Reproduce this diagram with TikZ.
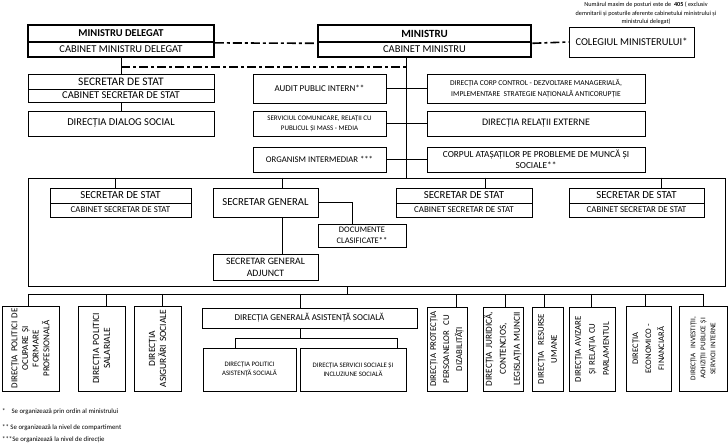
\documentclass[tikz,border=0pt]{standalone}
\usepackage{fontspec}
\setmainfont{Carlito}

\tikzset{
  box/.style={draw, line width=0.9pt, inner sep=1pt, align=center},
  chief/.style={draw, line width=2.6pt, inner sep=1pt, align=center},
  deputy/.style={draw, line width=1.8pt, inner sep=1pt, align=center},
  vbox/.style={box, rotate=90, text width=80pt},
  link/.style={line width=0.8pt},
  linkdash/.style={line width=1.6pt, dash pattern=on 9pt off 3pt on 3pt off 3pt},
}

\begin{document}
\begin{tikzpicture}[x=1pt,y=-1pt]
   \useasboundingbox (0,0) rectangle (728,446);

   % conducere
   \node[deputy,font=\bfseries\fontsize{10.5}{12}\selectfont,minimum width=186pt,minimum height=17pt] (mdtop) at (121,33.5) {MINISTRU DELEGAT};
   \node[deputy,font=\fontsize{10.5}{12}\selectfont,minimum width=186pt,minimum height=15pt] (mdbot) at (121,49.5) {CABINET MINISTRU DELEGAT};
   \node[chief,font=\bfseries\fontsize{11}{12}\selectfont,minimum width=213pt,minimum height=17pt] (mtop) at (424.5,33.5) {MINISTRU};
   \node[chief,font=\fontsize{10.5}{12}\selectfont,minimum width=213pt,minimum height=15pt] (mbot) at (424.5,49.5) {CABINET MINISTRU};
   \node[box,font=\fontsize{10.5}{12}\selectfont,minimum width=125pt,minimum height=30pt] (coleg) at (631.5,42) {COLEGIUL MINISTERULUI*};
   \node[font=\fontsize{6.2}{8.5}\selectfont,align=center,inner sep=0pt] (nota) at (646,13.5) {Numărul maxim de posturi este de \ \textbf{405} ( exclusiv\\ demnitarii și posturile aferente cabinetului ministrului și\\ ministrului delegat)};

   \draw[linkdash] (mdtop.south east) -- (mtop.south west);
   \draw[linkdash] (mtop.south east) -- (coleg.west);

   % ramura ministru delegat
   \node[box,font=\fontsize{11.5}{12}\selectfont,minimum width=186pt,minimum height=15pt] (ssAtop) at (121,81.5) {SECRETAR DE STAT};
   \node[box,font=\fontsize{10.5}{12}\selectfont,minimum width=186pt,minimum height=13pt] (ssAbot) at (121,95.5) {CABINET SECRETAR DE STAT};
   \node[box,font=\fontsize{10.5}{12}\selectfont,minimum width=186pt,minimum height=25pt] (dds) at (121,123.5) {DIRECȚIA DIALOG SOCIAL};
   \draw[link] (mdbot.south) -- (ssAtop.north);
   \draw[link] (ssAbot.south) -- (dds.north);

   % structuri din subordinea ministrului
   \node[box,font=\fontsize{9}{11}\selectfont,minimum width=133pt,minimum height=29pt] (audit) at (319.5,88.5) {AUDIT PUBLIC INTERN**};
   \node[box,font=\fontsize{7}{10}\selectfont,minimum width=133pt,minimum height=25pt] (serv) at (319.5,123.5) {SERVICIUL COMUNICARE, RELAȚII CU\\ PUBLICUL ȘI MASS - MEDIA};
   \node[box,font=\fontsize{8.7}{11}\selectfont,minimum width=133pt,minimum height=25pt] (organism) at (319.5,159.5) {ORGANISM INTERMEDIAR ***};
   \node[box,font=\fontsize{7.5}{11.5}\selectfont,minimum width=218pt,minimum height=29pt] (corp) at (536,88.5) {DIRECȚIA CORP CONTROL - DEZVOLTARE MANAGERIALĂ,\\ IMPLEMENTARE \ STRATEGIE NAȚIONALĂ ANTICORUPȚIE};
   \node[box,font=\fontsize{10}{12}\selectfont,minimum width=218pt,minimum height=25pt] (relext) at (536,123.5) {DIRECȚIA RELAȚII EXTERNE};
   \node[box,font=\fontsize{9.3}{11}\selectfont,minimum width=218pt,minimum height=25pt] (atasati) at (536,159.5) {CORPUL ATAȘAȚILOR PE PROBLEME DE MUNCĂ ȘI\\ SOCIALE**};

   \coordinate (trunk) at (406,67);
   \draw[linkdash] (mdbot.south |- trunk) -- (trunk);
   \draw[link] (audit) -- (corp);
   \draw[link] (serv) -- (relext);
   \draw[link] (organism) -- (atasati);

   % cadru secretari
   \node[box,minimum width=697pt,minimum height=108pt] (frame) at (376.5,232) {};
   \draw[link] (trunk |- mbot.south) -- (trunk |- frame.north);

   \node[box,font=\fontsize{10.8}{12}\selectfont,minimum width=141pt,minimum height=15pt] (ssBtop) at (120.5,195.5) {SECRETAR DE STAT};
   \node[box,font=\fontsize{8.9}{10}\selectfont,minimum width=141pt,minimum height=14pt] (ssBbot) at (120.5,210) {CABINET SECRETAR DE STAT};
   \node[box,font=\fontsize{10.7}{12}\selectfont,minimum width=105pt,minimum height=29pt] (sg) at (265.5,202.5) {SECRETAR GENERAL};
   \node[box,font=\fontsize{9.8}{12}\selectfont,minimum width=105pt,minimum height=26pt] (sga) at (265.5,267) {SECRETAR GENERAL\\ ADJUNCT};
   \node[box,font=\fontsize{8.5}{11}\selectfont,minimum width=88pt,minimum height=23pt] (doc) at (362,235.5) {DOCUMENTE\\ CLASIFICATE**};
   \node[box,font=\fontsize{10.8}{12}\selectfont,minimum width=136pt,minimum height=15pt] (ssCtop) at (464,195.5) {SECRETAR DE STAT};
   \node[box,font=\fontsize{8.9}{10}\selectfont,minimum width=136pt,minimum height=14pt] (ssCbot) at (464,210) {CABINET SECRETAR DE STAT};
   \node[box,font=\fontsize{10.8}{12}\selectfont,minimum width=135pt,minimum height=15pt] (ssDtop) at (636.5,195.5) {SECRETAR DE STAT};
   \node[box,font=\fontsize{8.9}{10}\selectfont,minimum width=135pt,minimum height=14pt] (ssDbot) at (636.5,210) {CABINET SECRETAR DE STAT};

   \coordinate (dropB) at (115,0);
   \coordinate (sgaxis) at (282,0);
   \coordinate (docaxis) at (352,0);
   \coordinate (dropC) at (485,0);
   \coordinate (dropD) at (661,0);
   \draw[link] (dropB |- frame.north) -- (dropB |- ssBtop.north);
   \draw[link] (sgaxis |- frame.north) -- (sgaxis |- sg.north);
   \draw[link] (sgaxis |- sg.south) -- (sgaxis |- sga.north);
   \draw[link] (sg.east) -| (docaxis |- doc.north);
   \draw[link] (dropC |- frame.north) -- (dropC |- ssCtop.north);
   \draw[link] (dropD |- frame.north) -- (dropD |- ssDtop.north);

   % directii
   \node[vbox,font=\fontsize{9}{10.7}\selectfont,minimum width=85pt,minimum height=57pt] (b1) at (30.5,348.5) {DIRECȚIA POLITICI DE\\ OCUPARE ȘI\\ FORMARE\\ PROFESIONALĂ};
   \node[vbox,font=\fontsize{9.5}{11}\selectfont,minimum width=85pt,minimum height=47pt] (b2) at (101.5,348.5) {DIRECȚIA POLITICI\\ SALARIALE};
   \node[vbox,font=\fontsize{9.5}{11}\selectfont,minimum width=85pt,minimum height=47pt] (b3) at (157.5,348.5) {DIRECȚIA\\ ASIGURĂRI SOCIALE};
   \node[box,font=\fontsize{9}{11}\selectfont,minimum width=215pt,minimum height=20pt] (dgas) at (309.5,318) {DIRECȚIA GENERALĂ ASISTENȚĂ SOCIALĂ};
   \node[box,font=\fontsize{6.8}{9}\selectfont,minimum width=93pt,minimum height=43pt] (sub1) at (249.5,369.5) {DIRECȚIA POLITICI\\ ASISTENȚĂ SOCIALĂ};
   \node[box,font=\fontsize{6.8}{9}\selectfont,minimum width=106pt,minimum height=43pt] (sub2) at (353,369.5) {DIRECȚIA SERVICII SOCIALE ȘI\\ INCLUZIUNE SOCIALĂ};
   \node[vbox,font=\fontsize{8.8}{13}\selectfont,minimum width=84pt,minimum height=40pt] (b5) at (447,349) {DIRECȚIA PROTECȚIA\\ PERSOANELOR \ CU\\ DIZABILITĂȚI};
   \node[vbox,font=\fontsize{9.2}{14}\selectfont,minimum width=84pt,minimum height=40pt] (b6) at (503,349) {DIRECȚIA JURIDICĂ,\\ CONTENCIOS,\\ LEGISLAȚIA MUNCII};
   \node[vbox,font=\fontsize{8.8}{13}\selectfont,minimum width=84pt,minimum height=31pt] (b7) at (547.5,349) {DIRECȚIA \ RESURSE\\ UMANE};
   \node[vbox,font=\fontsize{8.8}{14}\selectfont,minimum width=84pt,minimum height=46pt] (b8) at (592,349) {DIRECȚIA AVIZARE\\ ȘI RELAȚIA CU\\ PARLAMENTUL};
   \node[vbox,font=\fontsize{8.5}{13}\selectfont,minimum width=85pt,minimum height=45pt] (b9) at (648.5,348.5) {DIRECȚIA\\ ECONOMICO -\\ FINANCIARĂ};
   \node[vbox,font=\fontsize{7.2}{10}\selectfont,minimum width=85pt,minimum height=48pt] (b10) at (703,348.5) {DIRECȚIA \ INVESTIȚII,\\ ACHIZIȚII PUBLICE ȘI\\ SERVICII INTERNE};

   \coordinate (bus) at (347,294);
   \coordinate (d1) at (28,294);
   \coordinate (d2) at (106,294);
   \coordinate (d3) at (162,294);
   \coordinate (d4) at (300,294);
   \coordinate (d5) at (456,294);
   \coordinate (d6) at (505,294);
   \coordinate (d7) at (544,294);
   \coordinate (d8) at (591,294);
   \coordinate (d9) at (645,294);
   \coordinate (d10) at (703,294);
   \draw[link] (bus |- frame.south) -- (bus);
   \draw[link] (d1) -- (d10);
   \draw[link] (d1) -- (d1 |- b1.east);
   \draw[link] (d2) -- (d2 |- b2.east);
   \draw[link] (d3) -- (d3 |- b3.east);
   \draw[link] (d4) -- (d4 |- dgas.north);
   \draw[link] (d5) -- (d5 |- b5.east);
   \draw[link] (d6) -- (d6 |- b6.east);
   \draw[link] (d7) -- (d7 |- b7.east);
   \draw[link] (d8) -- (d8 |- b8.east);
   \draw[link] (d9) -- (d9 |- b9.east);
   \draw[link] (d10) -- (d10 |- b10.east);

   \coordinate (s1) at (235,338);
   \coordinate (s2) at (397,338);
   \draw[link] (d4 |- dgas.south) -- (d4 |- s1);
   \draw[link] (s1) -- (s2);
   \draw[link] (s1) -- (s1 |- sub1.north);
   \draw[link] (s2) -- (s2 |- sub2.north);

   % note
   \node[anchor=west,font=\fontsize{6.8}{8}\selectfont,inner sep=0pt] (n1) at (2,412) {*\hspace{6pt}Se organizează prin ordin al ministrului};
   \node[anchor=west,font=\fontsize{6.8}{8}\selectfont,inner sep=0pt] (n2) at (2,428) {**\hspace{1.5pt}Se organizează la nivel de compartiment};
   \node[anchor=west,font=\fontsize{6.8}{8}\selectfont,inner sep=0pt] (n3) at (2,440) {***Se organizează la nivel de direcție};
\end{tikzpicture}
\end{document}
